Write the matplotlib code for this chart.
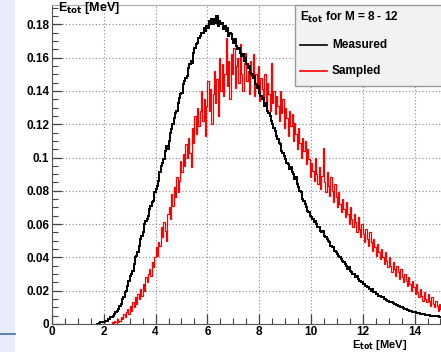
import numpy as np
import matplotlib
matplotlib.use("Agg")
from matplotlib import pyplot as plt
from matplotlib.patches import Rectangle
from matplotlib.lines import Line2D
from matplotlib.ticker import MultipleLocator

plt.rcParams['font.family'] = ['Liberation Sans', 'DejaVu Sans']
plt.rcParams['font.weight'] = 'bold'

# histogram contents, 0.05 MeV bins
bin_width = 0.05
measured_start = 1.7
measured = [
    0.000, 0.000, 0.0005, 0.001, 0.001, 0.0015, 0.001, 0.002, 0.002, 0.003,
    0.003, 0.004, 0.004, 0.005, 0.006, 0.007, 0.008, 0.009, 0.011, 0.012,
    0.015, 0.016, 0.019, 0.020, 0.023, 0.026, 0.029, 0.030, 0.032, 0.036,
    0.040, 0.041, 0.043, 0.047, 0.051, 0.053, 0.055, 0.060, 0.062, 0.063,
    0.065, 0.069, 0.071, 0.073, 0.074, 0.079, 0.081, 0.083, 0.086, 0.091,
    0.095, 0.097, 0.099, 0.104, 0.107, 0.105, 0.110, 0.115, 0.117, 0.120,
    0.124, 0.127, 0.128, 0.133, 0.136, 0.138, 0.139, 0.144, 0.146, 0.148,
    0.149, 0.154, 0.156, 0.158, 0.157, 0.163, 0.166, 0.168, 0.169, 0.172,
    0.173, 0.175, 0.175, 0.178, 0.176, 0.179, 0.178, 0.182, 0.180, 0.183,
    0.180, 0.183, 0.181, 0.185, 0.179, 0.182, 0.180, 0.181, 0.177, 0.179,
    0.176, 0.178, 0.173, 0.175, 0.174, 0.171, 0.169, 0.171, 0.167, 0.165,
    0.166, 0.163, 0.161, 0.162, 0.158, 0.160, 0.156, 0.154, 0.155, 0.151,
    0.150, 0.148, 0.149, 0.144, 0.142, 0.143, 0.139, 0.137, 0.135, 0.136,
    0.131, 0.133, 0.128, 0.127, 0.125, 0.122, 0.120, 0.118, 0.116, 0.113,
    0.111, 0.109, 0.108, 0.104, 0.103, 0.101, 0.099, 0.097, 0.096, 0.093,
    0.094, 0.091, 0.090, 0.087, 0.088, 0.084, 0.082, 0.080, 0.079, 0.075,
    0.074, 0.072, 0.070, 0.068, 0.067, 0.065, 0.064, 0.063, 0.061, 0.062,
    0.060, 0.058, 0.058, 0.056, 0.055, 0.056, 0.053, 0.052, 0.051, 0.050,
    0.049, 0.047, 0.046, 0.046, 0.044, 0.043, 0.042, 0.041, 0.040, 0.039,
    0.038, 0.037, 0.036, 0.035, 0.033, 0.034, 0.032, 0.031, 0.030, 0.030,
    0.028, 0.029, 0.027, 0.026, 0.026, 0.025, 0.024, 0.024, 0.023, 0.022,
    0.022, 0.021, 0.020, 0.021, 0.019, 0.019, 0.018, 0.018, 0.017, 0.017,
    0.016, 0.016, 0.015, 0.015, 0.0145, 0.014, 0.0135, 0.013, 0.013, 0.0125,
    0.012, 0.012, 0.0115, 0.011, 0.011, 0.0105, 0.010, 0.0098, 0.0092, 0.009,
    0.0085, 0.0085, 0.008, 0.0078, 0.0074, 0.0075, 0.0070, 0.0068, 0.0066, 0.0065,
    0.0062, 0.0061, 0.0059, 0.0058, 0.0056, 0.0055, 0.0053, 0.0052, 0.0051, 0.0050,
    0.0049, 0.0048, 0.0047, 0.0047, 0.0046, 0.0045, 0.0045, 0.0044, 0.0043, 0.0043,
]
sampled_start = 2.2
sampled = [
    0.000, 0.000, 0.001, 0.000, 0.002, 0.001, 0.003, 0.001, 0.002, 0.004,
    0.003, 0.006, 0.004, 0.007, 0.009, 0.006, 0.011, 0.008, 0.013, 0.010,
    0.016, 0.012, 0.018, 0.015, 0.021, 0.017, 0.024, 0.020, 0.028, 0.025,
    0.030, 0.033, 0.029, 0.037, 0.034, 0.040, 0.046, 0.041, 0.049, 0.047,
    0.058, 0.052, 0.061, 0.056, 0.050, 0.066, 0.070, 0.063, 0.078, 0.071,
    0.082, 0.076, 0.088, 0.079, 0.086, 0.098, 0.091, 0.102, 0.095, 0.108,
    0.100, 0.112, 0.103, 0.094, 0.118, 0.109, 0.125, 0.114, 0.130, 0.119,
    0.128, 0.140, 0.122, 0.135, 0.113, 0.131, 0.146, 0.128, 0.141, 0.120,
    0.138, 0.152, 0.133, 0.147, 0.125, 0.160, 0.140, 0.156, 0.137, 0.150,
    0.172, 0.143, 0.158, 0.135, 0.162, 0.150, 0.166, 0.142, 0.155, 0.160,
    0.145, 0.168, 0.150, 0.140, 0.157, 0.163, 0.146, 0.152, 0.138, 0.158,
    0.149, 0.162, 0.137, 0.150, 0.143, 0.155, 0.134, 0.148, 0.141, 0.136,
    0.150, 0.131, 0.145, 0.138, 0.128, 0.157, 0.133, 0.140, 0.126, 0.137,
    0.131, 0.122, 0.140, 0.127, 0.135, 0.118, 0.130, 0.124, 0.113, 0.128,
    0.119, 0.126, 0.110, 0.121, 0.114, 0.105, 0.118, 0.109, 0.100, 0.112,
    0.104, 0.110, 0.096, 0.105, 0.099, 0.088, 0.097, 0.092, 0.086, 0.100,
    0.090, 0.084, 0.094, 0.081, 0.089, 0.106, 0.085, 0.079, 0.091, 0.083,
    0.077, 0.088, 0.080, 0.073, 0.084, 0.076, 0.070, 0.079, 0.072, 0.067,
    0.075, 0.069, 0.064, 0.073, 0.066, 0.060, 0.070, 0.063, 0.058, 0.066,
    0.061, 0.055, 0.064, 0.057, 0.052, 0.060, 0.054, 0.049, 0.057, 0.051,
    0.047, 0.055, 0.049, 0.044, 0.051, 0.046, 0.041, 0.048, 0.043, 0.039,
    0.045, 0.040, 0.036, 0.043, 0.038, 0.034, 0.040, 0.035, 0.031, 0.037,
    0.033, 0.029, 0.035, 0.031, 0.027, 0.033, 0.028, 0.025, 0.030, 0.026,
    0.023, 0.028, 0.024, 0.020, 0.026, 0.022, 0.018, 0.024, 0.019, 0.016,
    0.021, 0.017, 0.014, 0.019, 0.015, 0.013, 0.018, 0.014, 0.011, 0.016,
    0.012, 0.010, 0.014, 0.011, 0.008, 0.012, 0.009, 0.007, 0.010, 0.008,
]

x_ticks = [0, 2, 4, 6, 8, 10, 12, 14]
y_ticks = [0, 0.02, 0.04, 0.06, 0.08, 0.1, 0.12, 0.14, 0.16, 0.18]
y_labels = ['0', '0.02', '0.04', '0.06', '0.08', '0.1', '0.12', '0.14', '0.16', '0.18']

fig = plt.figure(figsize=(4.41, 3.52), dpi=100)
fig.patch.set_facecolor('white')
# slide decoration at the left
fig.patches.append(Rectangle((0, 0), 15 / 441, 1, transform=fig.transFigure,
                             facecolor='#e8ecfa', edgecolor='none', zorder=0))
fig.lines.append(Line2D([0, 15 / 441], [1 - 334 / 352] * 2, transform=fig.transFigure,
                        color='#3d6fb0', lw=1.2))

ax = fig.add_axes([52 / 441, 1 - 324 / 352, 1 - 52 / 441, (324 - 5) / 352])

edges_m = measured_start + bin_width * np.arange(len(measured) + 1)
edges_s = sampled_start + bin_width * np.arange(len(sampled) + 1)
ax.stairs(measured, edges_m, color='black', lw=1.4, zorder=3)
ax.stairs(sampled, edges_s, color='red', lw=0.9, zorder=2)

ax.set_xlim(0, 15.02)
ax.set_ylim(0, 0.1916)
ax.set_xticks(x_ticks)
ax.set_yticks(y_ticks)
ax.set_yticklabels(y_labels)
ax.xaxis.set_minor_locator(MultipleLocator(0.5))
ax.yaxis.set_minor_locator(MultipleLocator(0.005))
ax.tick_params(which='both', direction='in', colors='#444444', labelcolor='black',
               labelsize=8.5, pad=2)
ax.tick_params(which='major', length=7, width=0.9)
ax.tick_params(which='minor', length=4, width=0.8)
ax.tick_params(axis='x', pad=1.5)
ax.grid(True, which='major', ls=(0, (1, 2)), color='#888888', lw=0.8)
ax.set_axisbelow(True)
ax.spines['right'].set_visible(False)
ax.spines['top'].set_color('#aaaaaa')
ax.spines['left'].set_color('#555555')
ax.spines['bottom'].set_color('#555555')

fig.text(58 / 441, 0.999, 'E$_{\\mathbf{tot}}$ [MeV]', ha='left', va='top', fontsize=9,
         fontweight='bold')
fig.text(352 / 441, 0.0, 'E$_{\\mathbf{tot}}$ [MeV]', ha='left', va='bottom', fontsize=8,
         fontweight='bold')

# legend box
fig.patches.append(Rectangle((295 / 441, 1 - 86 / 352), 150 / 441, 81 / 352,
                             transform=fig.transFigure, facecolor='#f2f2f2',
                             edgecolor='#9a9a9a', lw=1.0, zorder=5))
fig.text(300 / 441, 1 - 17 / 352, 'E$_{\\mathbf{tot}}$ for M = 8 - 12', ha='left',
         va='center', fontsize=8.5, fontweight='bold', zorder=6)
fig.lines.append(Line2D([300 / 441, 327 / 441], [1 - 45 / 352] * 2,
                        transform=fig.transFigure, color='black', lw=1.2, zorder=6))
fig.text(332 / 441, 1 - 45 / 352, 'Measured', ha='left', va='center', fontsize=8.5,
         fontweight='bold', zorder=6)
fig.lines.append(Line2D([300 / 441, 327 / 441], [1 - 71 / 352] * 2,
                        transform=fig.transFigure, color='red', lw=1.2, zorder=6))
fig.text(332 / 441, 1 - 71 / 352, 'Sampled', ha='left', va='center', fontsize=8.5,
         fontweight='bold', zorder=6)

fig.savefig('out.png', dpi=100)
